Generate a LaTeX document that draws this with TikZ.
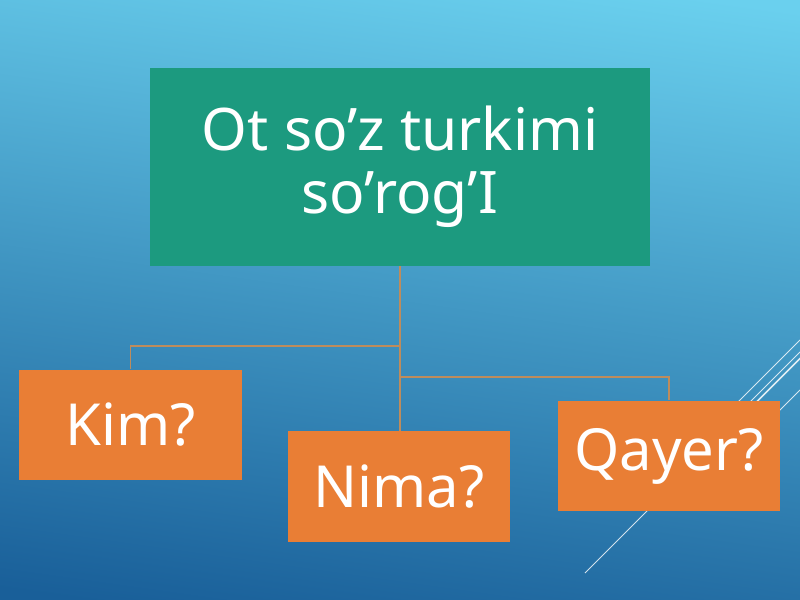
\documentclass[tikz,border=0pt]{standalone}
\usepackage{fontspec}
\setmainfont{Noto Sans}
\begin{document}
\begin{tikzpicture}[x=0.75pt,y=-0.75pt,
  topbox/.style={fill=teal1,draw=none,minimum width=375pt,minimum height=148pt,
    text=white,align=center,inner sep=0pt,font=\fontsize{44}{47}\selectfont},
  leafbox/.style={fill=orange1,draw=none,minimum width=167pt,minimum height=83pt,
    text=white,inner sep=0pt,font=\fontsize{43.5}{46}\selectfont},
  conn/.style={draw=connc,line width=0.9pt},
  deco/.style={draw=white,line width=0.7pt,opacity=0.8}]
\definecolor{teal1}{HTML}{1C9A7F}
\definecolor{orange1}{HTML}{E97E35}
\definecolor{connc}{HTML}{BE8C5C}
\definecolor{bgtop}{HTML}{6AD0EE}
\definecolor{bgbot}{HTML}{195F99}
\useasboundingbox (0,0) rectangle (800,600);
\shade[top color=bgtop,bottom color=bgbot,shading angle=-8] (-30,-30) rectangle (830,630);
% decorative lines
\draw[deco] (585,573) -- (800,358);
\draw[deco] (690,450) -- (800,340);
\draw[deco] (705,447) -- (800,352);
\draw[deco] (712,447) -- (800,359);
\draw[deco] (740,450) -- (800,390);
% nodes
\node[topbox] (top) at (400,167) {Ot so’z turkimi\\so’rog’I};
\node[leafbox] (kim) at (130.5,425) {Kim?};
\node[leafbox] (nima) at (399,486.5) {Nima?};
\node[leafbox] (qayer) at (669,456) {Qayer?};
% connectors
\coordinate (jk) at (400,346);
\coordinate (jq) at (400,377);
\draw[conn] (top.south) -- (top.south |- nima.north);
\draw[conn] (jk) -| (kim.north);
\draw[conn] (jq) -| (qayer.north);
\end{tikzpicture}
\end{document}
